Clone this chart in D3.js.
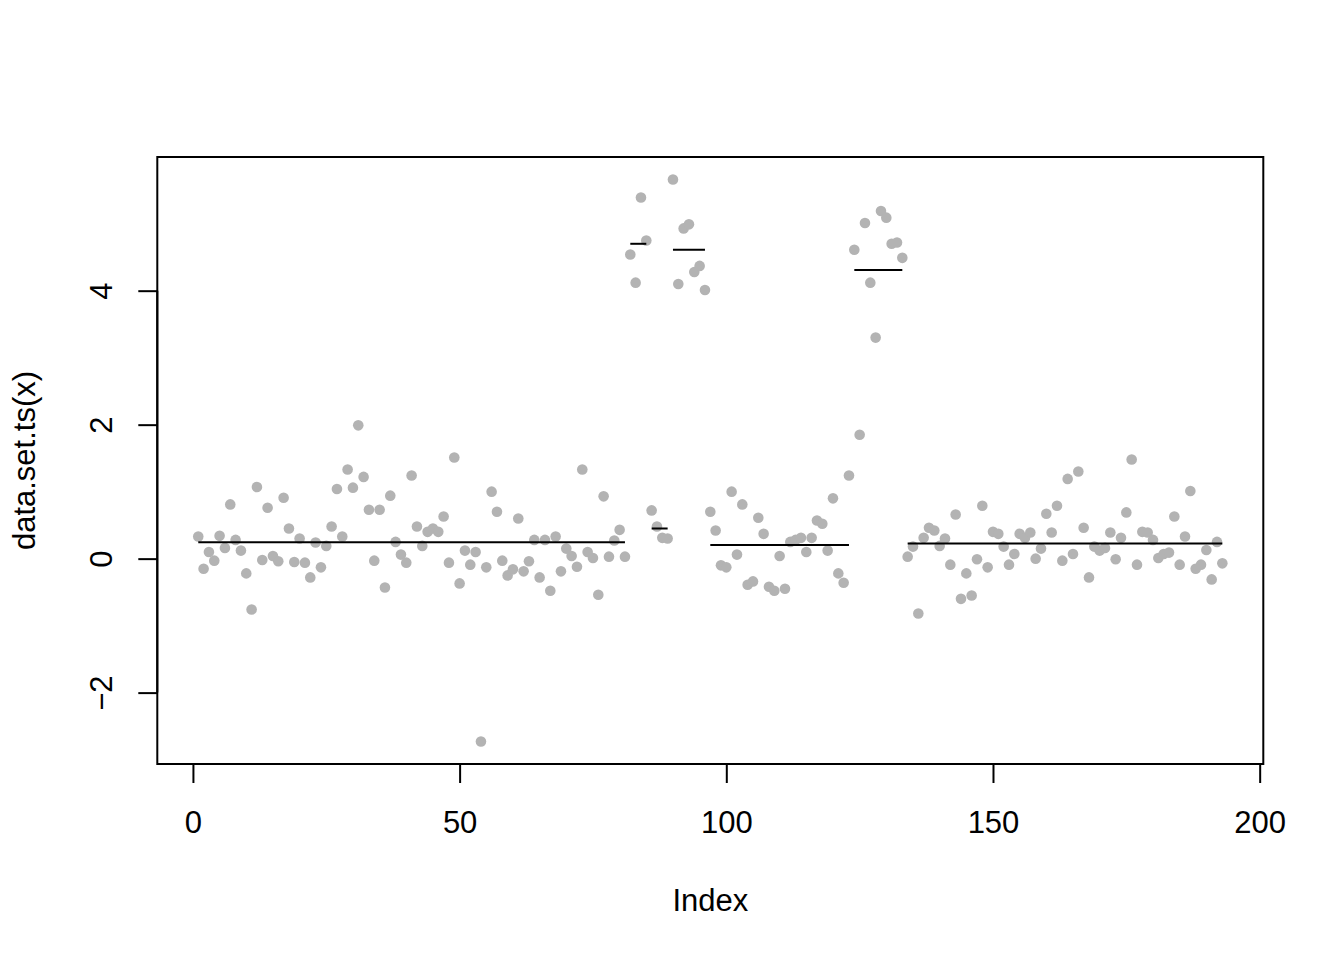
<!DOCTYPE html>
<html>
<head>
<meta charset="utf-8">
<script src="https://cdn.jsdelivr.net/npm/d3@7"></script>
<style>
  html, body { margin: 0; padding: 0; background: #fff; }
  svg { display: block; }
  text { font-family: "Liberation Sans", Arial, Helvetica, sans-serif; fill: #000; }
</style>
</head>
<body>
<svg id="chart" width="1344" height="960"></svg>
<script>
// Series values (index 1..193)
const values = [
  0.33, -0.15, 0.10, -0.03, 0.34, 0.16, 0.81, 0.28, 0.12, -0.22,
  -0.76, 1.07, -0.02, 0.76, 0.04, -0.04, 0.91, 0.45, -0.05, 0.30,
  -0.06, -0.28, 0.24, -0.13, 0.19, 0.48, 1.04, 0.33, 1.33, 1.06,
  1.99, 1.22, 0.73, -0.03, 0.73, -0.43, 0.94, 0.25, 0.06, -0.06,
  1.24, 0.48, 0.19, 0.40, 0.45, 0.40, 0.63, -0.06, 1.51, -0.37,
  0.12, -0.09, 0.10, -2.73, -0.13, 1.00, 0.70, -0.03, -0.25, -0.16,
  0.60, -0.19, -0.04, 0.28, -0.28, 0.28, -0.48, 0.33, -0.19, 0.15,
  0.04, -0.12, 1.33, 0.10, 0.01, -0.54, 0.93, 0.03, 0.27, 0.43,
  0.03, 4.54, 4.12, 5.39, 4.75, 0.72, 0.48, 0.31, 0.30, 5.66,
  4.10, 4.93, 4.99, 4.28, 4.37, 4.01, 0.70, 0.42, -0.10, -0.13,
  1.00, 0.06, 0.81, -0.39, -0.34, 0.61, 0.37, -0.42, -0.48, 0.04,
  -0.45, 0.25, 0.28, 0.31, 0.10, 0.31, 0.57, 0.52, 0.12, 0.90,
  -0.22, -0.36, 1.24, 4.61, 1.85, 5.01, 4.12, 3.30, 5.19, 5.09,
  4.70, 4.72, 4.49, 0.03, 0.18, -0.82, 0.31, 0.46, 0.42, 0.19,
  0.30, -0.09, 0.66, -0.60, -0.22, -0.55, -0.01, 0.79, -0.13, 0.40,
  0.37, 0.18, -0.09, 0.07, 0.37, 0.31, 0.39, 0.00, 0.15, 0.67,
  0.39, 0.79, -0.03, 1.19, 0.07, 1.30, 0.46, -0.28, 0.18, 0.12,
  0.16, 0.39, -0.01, 0.31, 0.69, 1.48, -0.09, 0.40, 0.39, 0.28,
  0.01, 0.07, 0.09, 0.63, -0.09, 0.33, 1.01, -0.15, -0.09, 0.13,
  -0.31, 0.25, -0.07
];

// Changepoint segments (start index, end index, segment mean)
const segStart = [1, 82, 86, 90, 97, 124, 134];
const segEnd   = [81, 85, 89, 96, 123, 133, 193];
const segMean  = [0.245, 4.70, 0.45, 4.61, 0.205, 4.31, 0.225];

// Tick labels
const xTicks = [0, 50, 100, 150, 200];
const yTicks = [-2, 0, 2, 4];

const xLabel = "Index";
const yLabel = "data.set.ts(x)";

const svg = d3.select("#chart");
const plotL = 157.3, plotR = 1263.3, plotT = 157, plotB = 764;
const fontSize = 31;

const n = values.length;
const xPad = (n - 1) * 0.04;
const x = d3.scaleLinear().domain([1 - xPad, n + xPad]).range([plotL, plotR]);
const ext = d3.extent(values);
const yPad = (ext[1] - ext[0]) * 0.04;
const y = d3.scaleLinear().domain([ext[0] - yPad, ext[1] + yPad]).range([plotB, plotT]);

// Points
svg.append("g").selectAll("circle")
  .data(values)
  .join("circle")
  .attr("cx", (d, i) => x(i + 1))
  .attr("cy", d => y(d))
  .attr("r", 5.3)
  .attr("fill", "#b3b3b3");

// Segment means
svg.append("g").selectAll("line")
  .data(segMean)
  .join("line")
  .attr("x1", (d, i) => x(segStart[i]))
  .attr("x2", (d, i) => x(segEnd[i]))
  .attr("y1", d => y(d))
  .attr("y2", d => y(d))
  .attr("stroke", "#000")
  .attr("stroke-width", 2);

// Box
svg.append("rect")
  .attr("x", plotL).attr("y", plotT)
  .attr("width", plotR - plotL).attr("height", plotB - plotT)
  .attr("fill", "none").attr("stroke", "#000").attr("stroke-width", 2);

// X axis
const xAxis = d3.axisBottom(x).tickValues(xTicks).tickSize(19).tickPadding(12).tickFormat(d3.format("d"));
const gx = svg.append("g").attr("transform", `translate(0,${plotB})`).call(xAxis);
gx.select(".domain").attr("d", `M${x(xTicks[0])},0H${x(xTicks[xTicks.length - 1])}`).attr("stroke-width", 2);
gx.selectAll(".tick line").attr("stroke-width", 2);
gx.selectAll(".tick text")
  .attr("font-size", fontSize)
  .attr("font-family", "Liberation Sans, Arial, sans-serif")
  .attr("dy", null).attr("y", 69);

// Y axis
const yAxis = d3.axisLeft(y).tickValues(yTicks).tickSize(19).tickFormat(d3.format("d"));
const gy = svg.append("g").attr("transform", `translate(${plotL},0)`).call(yAxis);
gy.select(".domain").attr("d", `M0,${y(yTicks[0])}V${y(yTicks[yTicks.length - 1])}`).attr("stroke-width", 2);
gy.selectAll(".tick line").attr("stroke-width", 2);
gy.selectAll(".tick text")
  .attr("font-size", fontSize)
  .attr("font-family", "Liberation Sans, Arial, sans-serif")
  .attr("x", null).attr("dy", null)
  .attr("text-anchor", "middle")
  .attr("transform", `translate(${111.7 - plotL},0) rotate(-90)`);

// Axis titles
svg.append("text")
  .attr("x", (plotL + plotR) / 2).attr("y", 911)
  .attr("text-anchor", "middle")
  .attr("font-size", fontSize)
  .text(xLabel);

svg.append("text")
  .attr("transform", `translate(35,${(plotT + plotB) / 2}) rotate(-90)`)
  .attr("text-anchor", "middle")
  .attr("font-size", fontSize)
  .text(yLabel);
</script>
</body>
</html>
